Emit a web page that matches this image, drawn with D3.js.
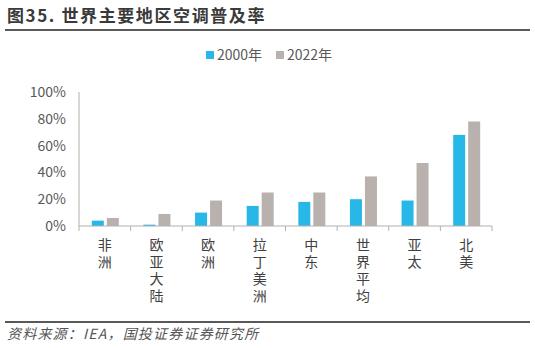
<!DOCTYPE html>
<html>
<head>
<meta charset="utf-8">
<script src="https://cdn.jsdelivr.net/npm/d3@7"></script>
<style>
  body { margin: 0; background: #fff; }
  text { font-family: "Noto Sans CJK SC", "Noto Sans", sans-serif; }
</style>
</head>
<body>
<script>
const regions = ['非洲', '欧亚大陆', '欧洲', '拉丁美洲', '中东', '世界平均', '亚太', '北美']
const v2000 = [4, 1, 10, 15, 18, 20, 19, 68]
const v2022 = [6, 9, 19, 25, 25, 37, 47, 78]
const seriesNames = ['2000年', '2022年']
const colors = ['#27b8e8', '#b9b1ae']
const yTicks = [0, 20, 40, 60, 80, 100]

const W = 535, H = 348
let svg = d3.select('body').append('svg')
  .attr('width', W)
  .attr('height', H)

// title and rules
svg.append('text')
  .attr('x', 7).attr('y', 22)
  .attr('font-size', 17).attr('font-weight', 'bold')
  .attr('letter-spacing', 1.6)
  .attr('fill', '#3a3a3a')
  .text('图35. 世界主要地区空调普及率')

svg.append('line')
  .attr('x1', 5).attr('x2', 530).attr('y1', 30).attr('y2', 30)
  .attr('stroke', '#222').attr('stroke-width', 1.5)

svg.append('line')
  .attr('x1', 5).attr('x2', 530).attr('y1', 322).attr('y2', 322)
  .attr('stroke', '#222').attr('stroke-width', 1.5)

svg.append('text')
  .attr('x', 7).attr('y', 339)
  .attr('font-size', 14).attr('font-style', 'italic')
  .attr('letter-spacing', 1.2)
  .attr('fill', '#555')
  .text('资料来源：IEA，国投证券证券研究所')

// scales
let x = d3.scaleBand()
  .domain(regions)
  .range([79, 492])

let y = d3.scaleLinear()
  .domain([0, 100])
  .range([226, 92])

let g = svg.append('g')

// y axis
g.append('line')
  .attr('x1', 79).attr('x2', 79).attr('y1', y(100)).attr('y2', y(0))
  .attr('stroke', '#b0b0b0')

g.selectAll('.ytick')
  .data(yTicks)
  .enter().append('text')
    .attr('class', 'ytick')
    .attr('x', 66)
    .attr('y', (d) => y(d) + 5)
    .attr('text-anchor', 'end')
    .attr('font-size', 14)
    .attr('fill', '#595959')
    .text((d) => d + '%')

// bars
let barW = 12, gap = 3
let data = regions.map((r, i) => ({ key: r, vals: [v2000[i], v2022[i]] }))

let groups = g.selectAll('.grp')
  .data(data)
  .enter().append('g')
    .attr('class', 'grp')
    .attr('transform', (d) => 'translate(' + (x(d.key) + x.bandwidth() / 2) + ',0)')

groups.selectAll('rect')
  .data((d) => d.vals)
  .enter().append('rect')
    .attr('x', (d, i) => i === 0 ? -barW - gap / 2 + 0.5 : gap / 2 + 0.5)
    .attr('y', (d) => y(d))
    .attr('width', barW)
    .attr('height', (d) => y(0) - y(d))
    .attr('fill', (d, i) => colors[i])

// x axis
g.append('line')
  .attr('x1', 79).attr('x2', 492).attr('y1', y(0)).attr('y2', y(0))
  .attr('stroke', '#b0b0b0')

g.selectAll('.xtick')
  .data(regions.concat(['end']))
  .enter().append('line')
    .attr('class', 'xtick')
    .attr('x1', (d, i) => 79 + i * x.bandwidth())
    .attr('x2', (d, i) => 79 + i * x.bandwidth())
    .attr('y1', y(0)).attr('y2', y(0) + 5)
    .attr('stroke', '#b0b0b0')

// vertical category labels
groups.append('text')
  .attr('class', 'lab')
  .attr('x', 0)
  .attr('y', 238)
  .style('writing-mode', 'vertical-rl')
  .attr('letter-spacing', 3)
  .attr('font-size', 14)
  .attr('fill', '#404040')
  .text((d) => d.key)

// legend
let legend = svg.append('g')
let legX = [206, 276]
seriesNames.forEach((name, i) => {
  legend.append('rect')
    .attr('x', legX[i]).attr('y', 51)
    .attr('width', 8).attr('height', 8)
    .attr('fill', colors[i])
  legend.append('text')
    .attr('x', legX[i] + 11).attr('y', 60)
    .attr('font-size', 14)
    .attr('fill', '#595959')
    .text(name)
})
</script>
</body>
</html>
